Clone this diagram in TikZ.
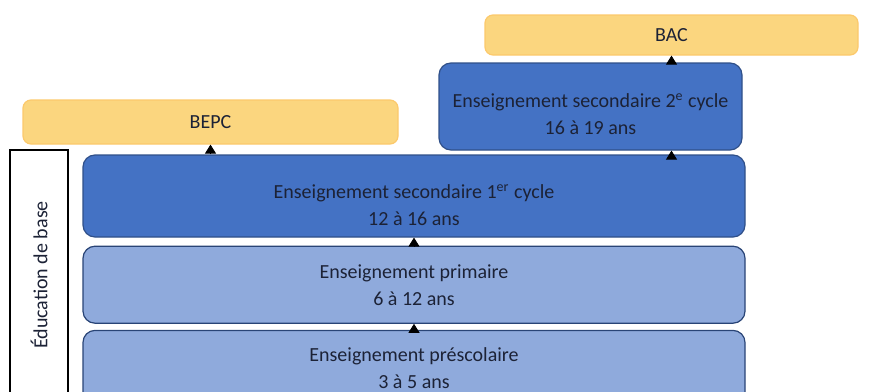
\documentclass[tikz,border=0pt]{standalone}
\usepackage{fontspec}
\setmainfont{Carlito}
\usetikzlibrary{positioning, arrows.meta}
\definecolor{bleuFonce}{HTML}{4472C4}
\definecolor{bleuClair}{HTML}{8FAADC}
\definecolor{jaune}{HTML}{FBD67F}
\definecolor{texte}{HTML}{1C2236}
\tikzset{
    >={Triangle[width=5.5pt,length=4.5pt]}, % small black heads
    x=0.5pt, y=-0.5pt, % one unit = one pixel, y going down
    node distance=4pt,
}

\begin{document}
\begin{tikzpicture}[
                                boite/.style={font=\fontsize{10}{13.5}\selectfont, text=texte, align=center, rounded corners=6pt, line width=0.6pt},
                                diplome/.style={boite, fill=jaune, draw=jaune!85!orange, rounded corners=4pt},
                                cycleFonce/.style={boite, fill=bleuFonce, draw=bleuFonce!70!black},
                                cycleClair/.style={boite, fill=bleuClair, draw=bleuFonce!60!black, minimum width=331pt},
                                fleche/.style={->, black, line width=0.4pt},
                            ]
                            \path[use as bounding box] (0,0) rectangle (894,391);
                            \clip (0,0) rectangle (894,391);
                            \node[diplome, minimum width=186.5pt, minimum height=20pt] (bac) at (671.5,35) {BAC};
                            \node[cycleFonce, minimum width=151.5pt, minimum height=43.5pt, text height=28.5pt] (sec2) at (590.5,106.5) {Enseignement secondaire 2\textsuperscript{e} cycle\\16 à 19 ans};
                            \node[diplome, minimum width=187.5pt, minimum height=22pt] (bepc) at (210.5,122) {BEPC};
                            \node[cycleFonce, minimum width=331pt, minimum height=41pt, text height=29.5pt] (sec1) at (414,196) {Enseignement secondaire 1\textsuperscript{er} cycle\\12 à 16 ans};
                            \node[cycleClair, minimum height=38.5pt, below=4pt of sec1] (prim) {Enseignement primaire\\6 à 12 ans};
                            \node[cycleClair, minimum height=38pt, below=3pt of prim] (presc) {Enseignement préscolaire\\3 à 5 ans};
                            \node[draw, fill=white, line width=0.6pt, rotate=90, minimum width=125pt, minimum height=29pt, font=\fontsize{10}{12}\selectfont, text=texte] (base) at (39,275) {Éducation de base};
                            \draw[fleche] (sec1.north -| bepc) -- (bepc.south);
                            \draw[fleche] (sec1.north -| bac) -- (sec2.south -| bac);
                            \draw[fleche] (sec2.north -| bac) -- (bac.south);
                            \draw[fleche] (prim.north) -- (sec1.south);
                            \draw[fleche] (presc.north) -- (prim.south);
                        \end{tikzpicture}
\end{document}
